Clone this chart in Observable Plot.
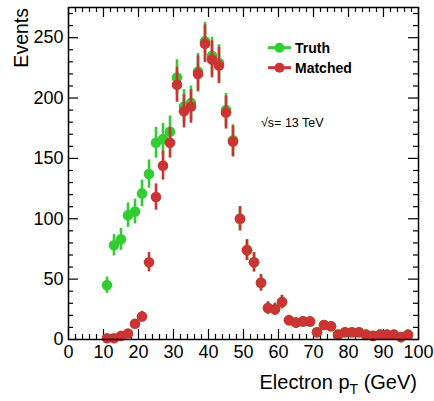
<!DOCTYPE html>
<html><head><meta charset="utf-8">
<script src="https://cdn.jsdelivr.net/npm/d3@7"></script>
<script src="https://cdn.jsdelivr.net/npm/@observablehq/plot@0.6"></script>
<style>
html,body{margin:0;padding:0;background:#fff;}
#chart{width:434px;height:401px;}
</style></head><body><div id="chart"></div>
<script>
// ---- data ----
const binCenters = [11,13,15,17,19,21,23,25,27,29,31,33,35,37,39,41,43,45,47,49,51,53,55,57,59,61,63,65,67,69,71,73,75,77,79,81,83,85,87,89,91,93,95,97];
const truthEvents = [45,78,83,103,106,121,137,163,166,172,217,193,196,222,247,235,229,190,165,100,74,64,47,26,25,31,16,14,15,15,6,12,11,4,6,6,6,4,3,4,4,4,2,4];
const matchedEvents = [1,1,3,5,13,19,64,118,144,163,211,189,193,220,245,232,227,188,164,100,74,64,47,26,25,31,16,14,15,15,6,12,11,4,6,6,6,4,3,4,4,4,2,4];
const seriesNames = ["Truth", "Matched"];
const seriesColors = ["#33cc33", "#cc3333"];
const xMajorTicks = [0,10,20,30,40,50,60,70,80,90,100];
const yMajorTicks = [0,50,100,150,200,250];
const xDomain = [0, 100];
const yDomain = [0, 275];
const xTitle = "Electron p";
const xTitleSub = "T";
const xTitleUnit = " (GeV)";
const yTitle = "Events";
const energyLabel = "√s= 13 TeV";

// ---- layout ----
const W = 434, H = 401;
const mL = 68, mR = 16, mT = 7, mB = 62;
const innerW = W - mL - mR, innerH = H - mT - mB;
const xMinorTicks = d3.range(0, 101, 2).filter(v => v % 10 !== 0);
const yMinorTicks = d3.range(0, 276, 10).filter(v => v % 50 !== 0);

const truthRows = binCenters.map((x, i) => ({x, n: truthEvents[i]}));
const matchedRows = binCenters.map((x, i) => ({x, n: matchedEvents[i]}));

const errMarks = (rows, color) => [
  Plot.ruleX(rows, {x: "x", y1: d => d.n - Math.sqrt(d.n), y2: d => d.n + Math.sqrt(d.n), stroke: color, strokeWidth: 2.6}),
  Plot.dot(rows, {x: "x", y: "n", r: 5.3, fill: color, stroke: "none"})
];

const tickW = 1.2;
const chart = Plot.plot({
  width: W, height: H,
  marginLeft: mL, marginRight: mR, marginTop: mT, marginBottom: mB,
  style: {fontFamily: "'Liberation Sans', Arial, Helvetica, sans-serif", color: "#000", background: "#fff"},
  x: {domain: xDomain},
  y: {domain: yDomain},
  marks: [
    Plot.tickX(xMajorTicks, {x: d => d, insetTop: innerH - 10, stroke: "#000", strokeWidth: tickW}),
    Plot.tickX(xMinorTicks, {x: d => d, insetTop: innerH - 5, stroke: "#000", strokeWidth: tickW}),
    Plot.tickX(xMajorTicks, {x: d => d, insetBottom: innerH - 10, stroke: "#000", strokeWidth: tickW}),
    Plot.tickX(xMinorTicks, {x: d => d, insetBottom: innerH - 5, stroke: "#000", strokeWidth: tickW}),
    Plot.tickY(yMajorTicks, {y: d => d, insetRight: innerW - 10, stroke: "#000", strokeWidth: tickW}),
    Plot.tickY(yMinorTicks, {y: d => d, insetRight: innerW - 5, stroke: "#000", strokeWidth: tickW}),
    Plot.tickY(yMajorTicks, {y: d => d, insetLeft: innerW - 10, stroke: "#000", strokeWidth: tickW}),
    Plot.tickY(yMinorTicks, {y: d => d, insetLeft: innerW - 5, stroke: "#000", strokeWidth: tickW}),
    Plot.axisX(xMajorTicks, {tickSize: 0, tickPadding: 6, fontSize: 18, label: null}),
    Plot.axisY(yMajorTicks, {tickSize: 0, tickPadding: 5, fontSize: 18, label: null}),
    ...errMarks(truthRows, seriesColors[0]),
    ...errMarks(matchedRows, seriesColors[1]),
    Plot.frame({stroke: "#000", strokeWidth: 1.5})
  ]
});
document.getElementById("chart").appendChild(chart);

// ---- titles, legend and annotation ----
const svg = d3.select(chart);
const ff = "'Liberation Sans', Arial, Helvetica, sans-serif";
svg.append("text")
  .attr("transform", "translate(28,8) rotate(-90)")
  .attr("text-anchor", "end").attr("font-size", 19.5).attr("font-family", ff).attr("fill", "#000")
  .text(yTitle);
const xt = svg.append("text")
  .attr("x", W - mR - 1).attr("y", 389)
  .attr("text-anchor", "end").attr("font-size", 20).attr("font-family", ff).attr("fill", "#000");
xt.append("tspan").text(xTitle);
xt.append("tspan").attr("font-size", 14).attr("dy", 5).text(xTitleSub);
xt.append("tspan").attr("dy", -5).text(xTitleUnit);

const legendY = [47.7, 67.7];
seriesNames.forEach((name, i) => {
  const g = svg.append("g");
  g.append("line").attr("x1", 268).attr("x2", 291).attr("y1", legendY[i]).attr("y2", legendY[i])
    .attr("stroke", seriesColors[i]).attr("stroke-width", 3);
  g.append("circle").attr("cx", 279.5).attr("cy", legendY[i]).attr("r", 5).attr("fill", seriesColors[i]);
  g.append("text").attr("x", 295).attr("y", legendY[i] + 5).attr("text-anchor", "start")
    .attr("font-size", 14).attr("font-weight", "bold")
    .attr("font-family", ff).attr("fill", "#000").text(name);
});
svg.append("text").attr("x", 261).attr("y", 127).attr("text-anchor", "start")
  .attr("font-size", 12.5).attr("font-family", ff)
  .attr("fill", "#000").text(energyLabel);
</script>
</body></html>
